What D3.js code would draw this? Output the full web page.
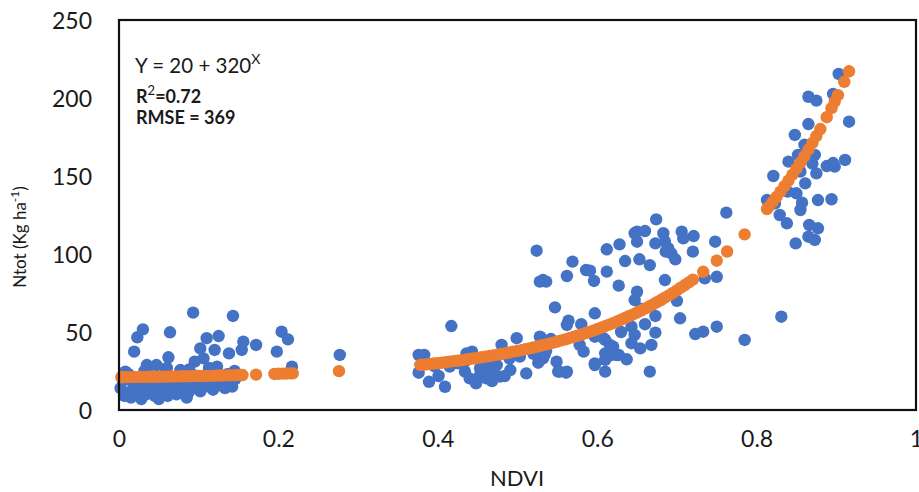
<!DOCTYPE html>
<html><head><meta charset="utf-8">
<script src="https://cdn.jsdelivr.net/npm/d3@7"></script>
<style>body{margin:0;background:#fff}svg{display:block}</style></head>
<body><svg id="c" width="919" height="492"></svg>
<script>
// Observed Ntot vs NDVI (blue)
const obsNdvi = [
 0.093,0.143,0.030,0.023,0.064,0.019,0.110,0.125,0.102,0.120,0.138,0.156,0.154,0.172,0.062,0.095,0.106,0.035,0.047,0.123,0.077,0.008,0.204,0.212,0.198,0.217,0.277,
 0.002,0.005,0.010,0.012,0.015,0.018,0.022,0.025,0.028,0.031,0.034,0.036,0.040,0.042,0.045,0.048,0.050,0.053,0.056,0.058,0.061,0.064,0.067,0.070,0.072,0.075,0.078,0.081,0.084,0.087,0.090,0.093,0.096,0.099,0.102,0.105,0.108,0.112,0.115,0.118,0.122,0.126,0.129,0.133,0.136,0.139,0.142,0.146,0.032,0.020,0.060,0.088,0.113,0.145,0.007,0.050,0.085,
 0.417,0.383,0.376,0.376,0.389,0.401,0.409,0.415,0.436,0.443,0.434,0.440,0.448,0.453,0.461,0.470,0.474,0.480,0.478,0.484,0.491,0.499,0.503,0.511,0.528,0.532,0.526,0.549,0.551,0.453,0.459,0.465,0.447,0.434,0.547,0.396,0.425,0.458,0.468,0.490,0.520,0.536,0.542,
 0.524,0.528,0.536,0.564,0.562,0.569,0.562,0.586,0.591,0.596,0.612,0.628,0.612,0.627,0.635,0.597,0.553,0.562,0.578,0.583,0.597,0.610,0.610,0.618,0.627,0.597,0.610,0.620,0.637,0.647,0.643,
 0.674,0.650,0.660,0.650,0.683,0.673,0.685,0.689,0.693,0.686,0.698,0.706,0.721,0.708,0.748,0.720,0.653,0.666,0.532,0.650,0.647,0.685,0.735,0.750,0.673,0.704,0.673,0.723,0.733,0.750,0.668,0.666,0.654,0.643,0.647,0.624,0.610,0.616,0.608,0.597,0.561,0.534,0.530,0.762,0.785,0.640,0.655,0.660,0.630,0.700,0.580,
 0.903,0.865,0.875,0.896,0.916,0.865,0.848,0.840,0.821,0.852,0.873,0.875,0.888,0.898,0.911,0.896,0.861,0.855,0.850,0.857,0.855,0.877,0.894,0.829,0.838,0.866,0.877,0.865,0.873,0.849,0.813,0.823,0.831,0.839,0.860,0.870
];
const obsNtot = [
 62.4,60.3,51.7,46.6,49.8,37.4,46.0,47.4,39.5,38.5,36.3,43.8,38.5,41.7,33.8,31.0,33.1,28.8,28.8,27.8,25.6,24.6,50.2,45.3,37.4,27.8,35.3,
 14,19,11,23,8,16,12,20,7,15,10,24,13,18,9,21,14,11,17,24,9,13,20,15,10,18,13,23,16,11,19,14,22,17,12,20,15,24,18,13,21,16,19,14,23,17,15,20,25,21,27,26,27,25,9,7,8,
 53.8,35.3,35.3,23.9,18.1,21.8,14.9,27.8,36.3,37.4,24.6,20.3,17.1,22.4,20.3,23.5,28.8,41.7,21.4,21.8,25.6,46.0,34.2,23.5,47.0,33.1,30.3,31.0,24.6,26.7,25.6,27.8,19.2,31.0,65.8,28,30,30,18.5,33,36,38,45.5,
 102.1,82.3,82.3,57.3,54.5,95.1,85.9,89.7,89.3,82.7,103,106.2,88.7,79.7,95.5,62,24.6,24.6,41.7,37.4,29.9,24.6,36.3,35.3,35.3,47,44.9,40.6,32.5,113.3,42.8,
 122.2,114.3,114.7,107.9,113.3,106.8,107.9,103.7,100.4,101.5,96.6,114.3,111.5,110,107.9,101.5,96.6,92.9,83.3,75.8,70.5,83.3,84.4,85.4,60.3,58.8,49.6,48.7,50.2,53.4,41.7,24.6,39.5,53.4,48.1,35.3,32.1,41.7,46,28.8,23.9,35.3,46,126.5,44.9,60,65,55,50,70,55,
 215.4,200.8,198.3,202.6,184.8,183.3,176.3,159.2,150,163.5,163.5,151.7,156.4,156,160.3,158.3,145.3,152.8,138.9,132.9,128.2,134.6,135.1,125,119.7,118.6,116.5,111.1,109,106.8,134.6,132.5,59.8,140,170,158
];
// Fitted values Y = 20 + 320^X (orange)
const fitNdvi = [
 0.003,0.005,0.010,0.015,0.020,0.025,0.030,0.035,0.040,0.045,0.050,0.055,0.060,0.065,0.070,0.075,0.080,0.085,0.090,0.095,0.100,0.105,0.110,0.115,0.120,0.125,0.130,0.135,0.140,0.145,0.150,0.155,
 0.172,0.195,0.200,0.205,0.210,0.215,0.218,0.276,
 0.378,0.380,0.385,0.390,0.395,0.400,0.405,0.410,0.415,0.420,0.425,0.430,0.435,0.440,0.445,0.450,0.455,0.460,0.465,0.470,0.475,0.480,0.485,0.490,0.495,0.500,0.505,0.510,0.515,0.520,0.525,0.530,0.535,0.540,0.545,0.550,0.555,0.560,0.565,0.570,0.575,0.580,0.585,0.590,0.595,0.600,0.605,0.610,0.615,0.620,0.625,0.630,0.635,0.640,0.645,0.650,0.655,0.660,0.665,0.670,0.675,0.680,0.685,0.690,0.695,0.700,0.705,0.710,0.715,0.720,
 0.733,0.750,0.763,0.785,
 0.813,0.815,0.820,0.825,0.830,0.835,0.840,0.845,0.850,0.855,0.860,0.865,0.870,0.875,0.880,0.888,0.894,0.898,0.902,0.910,0.916
];
const fitNtot = [
 21.0,21.0,21.1,21.1,21.1,21.2,21.2,21.2,21.3,21.3,21.3,21.4,21.4,21.5,21.5,21.5,21.6,21.6,21.7,21.7,21.8,21.8,21.9,21.9,22.0,22.1,22.1,22.2,22.2,22.3,22.4,22.4,
 22.7,23.1,23.2,23.3,23.4,23.5,23.5,24.9,
 28.9,29.0,29.2,29.5,29.8,30.0,30.3,30.6,31.0,31.3,31.6,31.9,32.3,32.7,33.0,33.4,33.8,34.2,34.6,35.0,35.5,35.9,36.4,36.9,37.4,37.9,38.4,39.0,39.5,40.1,40.7,41.3,41.9,42.5,43.2,43.9,44.6,45.3,46.0,46.8,47.6,48.4,49.2,50.1,50.9,51.8,52.8,53.7,54.7,55.7,56.8,57.9,59.0,60.1,61.3,62.5,63.7,65.0,66.3,67.7,69.1,70.5,72.0,73.5,75.1,76.7,78.4,80.1,81.8,83.6,
 88.6,95.7,101.6,112.6,
 128.8,130.1,133.3,136.6,140.0,143.5,147.1,150.9,154.7,158.6,162.7,166.9,171.2,175.6,180.1,187.7,193.5,197.7,201.8,210.4,217.1
];
const xTicks = [0, 0.2, 0.4, 0.6, 0.8, 1];
const yTicks = [0, 50, 100, 150, 200, 250];

const svg = d3.select('#c');
const L = 119, R = 916, T = 20, B = 410;
const x = d3.scaleLinear().domain([0, 1]).range([L, R]);
const y = d3.scaleLinear().domain([0, 250]).range([B, T]);
const font = 'Lato, "Open Sans", sans-serif';

const xAxis = svg.append('g').attr('transform', `translate(0,${B})`)
  .call(d3.axisBottom(x).tickValues(xTicks).tickSize(0).tickPadding(24).tickFormat(d => String(d)));
const yAxis = svg.append('g').attr('transform', `translate(${L},0)`)
  .call(d3.axisLeft(y).tickValues(yTicks).tickSize(0).tickPadding(27).tickFormat(d => String(d)));
[xAxis, yAxis].forEach(g => {
  g.select('.domain').remove();
  g.selectAll('text').attr('font-family', font).attr('font-size', 23).attr('fill', '#1a1a1a');
});
xAxis.selectAll('text').attr('dy', '0.71em').attr('y', 21);
yAxis.selectAll('text').attr('dy', '0.35em');

const obs = obsNdvi.map((v, i) => [v, obsNtot[i]]);
const fit = fitNdvi.map((v, i) => [v, fitNtot[i]]);
svg.append('g').selectAll('circle').data(obs).join('circle')
  .attr('cx', d => x(d[0])).attr('cy', d => y(d[1])).attr('r', 6.2).attr('fill', '#4472C4');
svg.append('g').selectAll('circle').data(fit).join('circle')
  .attr('cx', d => x(d[0])).attr('cy', d => y(d[1])).attr('r', 6.2).attr('fill', '#ED7D31');

svg.append('rect').attr('x', L).attr('y', T).attr('width', R - L).attr('height', B - T)
  .attr('fill', 'none').attr('stroke', '#111').attr('stroke-width', 2.2);

// Axis titles
svg.append('text').attr('x', 517).attr('y', 486).attr('text-anchor', 'middle')
  .attr('font-family', font).attr('font-size', 22).attr('fill', '#1a1a1a').text('NDVI');
const yt = svg.append('text').attr('transform', 'translate(26,237) rotate(-90)').attr('text-anchor', 'middle')
  .attr('font-family', font).attr('font-size', 17).attr('fill', '#1a1a1a');
yt.append('tspan').text('Ntot (Kg ha');
yt.append('tspan').attr('dy', -7).attr('font-size', 12).text('-1');
yt.append('tspan').attr('dy', 7).text(')');

// Annotation
const a1 = svg.append('text').attr('x', 135).attr('y', 73).attr('font-family', font).attr('font-size', 20.5).attr('fill', '#1a1a1a');
a1.append('tspan').text('Y = 20 + 320');
a1.append('tspan').attr('dy', -9).attr('font-size', 14).text('X');
const a2 = svg.append('text').attr('x', 136).attr('y', 103).attr('font-family', font).attr('font-size', 18).attr('font-weight', 'bold').attr('fill', '#1a1a1a');
a2.append('tspan').text('R');
a2.append('tspan').attr('dy', -8).attr('font-size', 13).attr('font-weight', 'normal').text('2');
a2.append('tspan').attr('dy', 8).text('=0.72');
svg.append('text').attr('x', 136).attr('y', 124).attr('font-family', font).attr('font-size', 18).attr('font-weight', 'bold').attr('fill', '#1a1a1a').text('RMSE = 369');
</script></body></html>
